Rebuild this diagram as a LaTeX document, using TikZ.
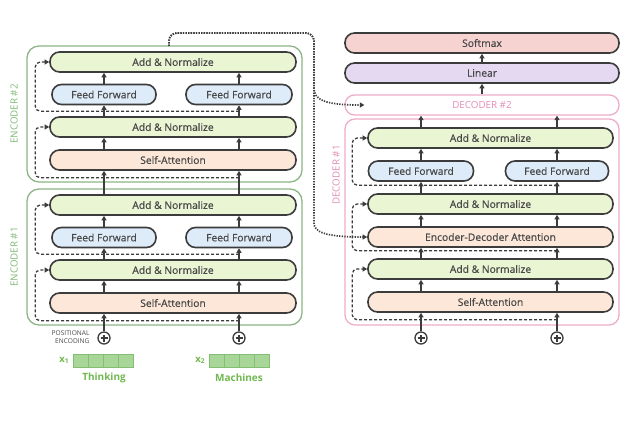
\documentclass[tikz,border=0pt]{standalone}
\usepackage{fontspec}
\setmainfont{Open Sans}
\newfontfamily\boxfont{Open Sans}[FakeBold=0.4]
\usetikzlibrary{arrows.meta,calc}

\definecolor{boxline}{RGB}{60,60,60}
\definecolor{txt}{RGB}{72,72,72}
\definecolor{anfill}{RGB}{234,245,212}
\definecolor{fffill}{RGB}{222,235,248}
\definecolor{safill}{RGB}{252,231,216}
\definecolor{smfill}{RGB}{246,211,208}
\definecolor{linfill}{RGB}{229,217,242}
\definecolor{encgreen}{RGB}{140,182,134}
\definecolor{enctext}{RGB}{128,186,118}
\definecolor{decpink}{RGB}{238,172,202}
\definecolor{dectext}{RGB}{226,140,180}
\definecolor{vecfill}{RGB}{168,214,152}
\definecolor{vecline}{RGB}{130,190,115}
\definecolor{wordgreen}{RGB}{112,184,80}

\tikzset{
  layer/.style={draw=boxline, line width=1.6pt, rounded corners=9.5pt,
    minimum height=20pt, inner sep=0pt, text=txt,
    font=\boxfont\fontsize{10.3}{11}\selectfont},
  addnorm/.style={layer, fill=anfill, minimum width=#1},
  addnorm/.default=246pt,
  feedfwd/.style={layer, fill=fffill, minimum width=#1},
  feedfwd/.default=104pt,
  selfatt/.style={layer, fill=safill, minimum width=#1},
  selfatt/.default=246pt,
  encbox/.style={draw=encgreen, line width=1.3pt, rounded corners=12pt,
    minimum width=275pt, minimum height=136pt},
  decbox/.style={draw=decpink, line width=1.3pt, rounded corners=10pt,
    minimum width=274pt},
  enclabel/.style={rotate=90, text=enctext, font=\fontsize{9.8}{10}\selectfont},
  declabel/.style={text=dectext, font=\fontsize{9.8}{10}\selectfont},
  flow/.style={line width=1.3pt, draw=boxline, -{Triangle[length=4.5pt,width=5pt]}},
  resid/.style={flow, dash pattern=on 3pt off 2pt, rounded corners=5pt},
  link/.style={line width=1.7pt, draw=boxline, dash pattern=on 1.3pt off 1.3pt,
    rounded corners=8pt, -{Triangle[length=4.5pt,width=5pt]}},
  pe/.style={circle, draw=boxline, line width=1.3pt, minimum size=12pt, inner sep=0pt,
    path picture={
      \draw[boxline, line width=1.3pt]
        ([yshift=-3.5pt]path picture bounding box.center) -- ([yshift=3.5pt]path picture bounding box.center)
        ([xshift=-3.5pt]path picture bounding box.center) -- ([xshift=3.5pt]path picture bounding box.center);
    }},
  cell/.style={draw=vecline, fill=vecfill, line width=0.6pt,
    minimum width=15pt, minimum height=13pt, inner sep=0pt},
  word/.style={text=wordgreen, font=\fontsize{10}{11}\selectfont\bfseries}
}

\begin{document}
\begin{tikzpicture}[x=1pt, y=-1pt]
  \useasboundingbox (0,0) rectangle (639,420);

  % columns of the two words
  \coordinate (ca) at (104,0);
  \coordinate (cb) at (239,0);
  \coordinate (da) at (421,0);
  \coordinate (db) at (557,0);

  % encoders
  \node[encbox] (enc2) at (164.5,114) {};
  \node[encbox] (enc1) at (164.5,257) {};
  \node[enclabel] at (14,114) {ENCODER \#2};
  \node[enclabel] at (14,257) {ENCODER \#1};

  \foreach \n/\dy in {2/0,1/143} {
    \node[addnorm] (e\n-an2) at (173,62+\dy) {Add \& Normalize};
    \node[feedfwd] (e\n-ffa) at (104,94.5+\dy) {Feed Forward};
    \node[feedfwd=106pt] (e\n-ffb) at (239,94.5+\dy) {Feed Forward};
    \node[addnorm] (e\n-an1) at (173,127+\dy) {Add \& Normalize};
    \node[selfatt] (e\n-sa) at (173,160+\dy) {Self-Attention};
    \foreach \c/\f in {ca/ffa,cb/ffb} {
      \draw[flow] (e\n-sa.north -| \c) -- (e\n-an1.south -| \c);
      \draw[flow] (e\n-an1.north -| \c) -- (e\n-\f.south);
      \draw[flow] (e\n-\f.north) -- (e\n-an2.south -| \c);
    }
    % residuals
    \draw[resid] ($(e\n-sa.south -| cb)+(0,7)$) -| ($(e\n-an1.west)+(-14,0)$) -- (e\n-an1.west);
    \draw[resid] ($(e\n-an1.north -| cb)+(0,-5)$) -| ($(e\n-an2.west)+(-14,0)$) -- (e\n-an2.west);
  }
  \draw[flow] (e1-an2.north -| ca) -- (e2-sa.south -| ca);
  \draw[flow] (e1-an2.north -| cb) -- (e2-sa.south -| cb);

  % inputs
  \node[pe] (pe1) at (104,338) {};
  \node[pe] (pe2) at (239,338) {};
  \draw[flow] (pe1) -- (e1-sa.south -| pe1);
  \draw[flow] (pe2) -- (e1-sa.south -| pe2);
  \node[anchor=east, align=right, text=txt, font=\fontsize{6.6}{8}\selectfont]
    at (93,337) {POSITIONAL\\ENCODING};

  \foreach \i in {0,...,3} {
    \node[cell] (xa\i) at (80.5+15*\i,360.5) {};
    \node[cell] (xb\i) at (216.5+15*\i,360.5) {};
  }
  \node[text=wordgreen, font=\fontsize{9.5}{10}\selectfont\bfseries, anchor=east] at (xa0.west) {x\textsubscript{1}};
  \node[text=wordgreen, font=\fontsize{9.5}{10}\selectfont\bfseries, anchor=east] at (xb0.west) {x\textsubscript{2}};
  \node[word] (w1) at (104,378) {Thinking};
  \node[word] (w2) at (239,378) {Machines};

  % decoder stack
  \node[layer, fill=smfill, minimum width=274pt] (soft) at (482,43) {Softmax};
  \node[layer, fill=linfill, minimum width=274pt] (lin) at (482,73) {Linear};
  \node[decbox, minimum height=20pt, rounded corners=9.5pt] (dec2) at (482,105) {};
  \node[declabel] at (dec2) {DECODER \#2};
  \node[decbox, minimum height=206pt] (dec1) at (482,222) {};
  \node[declabel, rotate=90] at (336,175) {DECODER \#1};
  \draw[flow] (lin) -- (soft);
  \draw[flow] (dec2) -- (lin);

  \node[addnorm=245pt] (d-an3) at (490.5,138) {Add \& Normalize};
  \node[feedfwd=105pt] (d-ffa) at (421,171) {Feed Forward};
  \node[feedfwd=103pt] (d-ffb) at (557,171) {Feed Forward};
  \node[addnorm=245pt] (d-an2) at (490.5,204) {Add \& Normalize};
  \node[selfatt=245pt] (d-ed) at (490.5,237) {Encoder-Decoder Attention};
  \node[addnorm=245pt] (d-an1) at (490.5,269) {Add \& Normalize};
  \node[selfatt=245pt] (d-sa) at (490.5,302) {Self-Attention};

  \foreach \c/\f in {da/ffa,db/ffb} {
    \draw[flow] (d-sa.north -| \c) -- (d-an1.south -| \c);
    \draw[flow] (d-an1.north -| \c) -- (d-ed.south -| \c);
    \draw[flow] (d-ed.north -| \c) -- (d-an2.south -| \c);
    \draw[flow] (d-an2.north -| \c) -- (d-\f.south);
    \draw[flow] (d-\f.north) -- (d-an3.south -| \c);
    \draw[flow] (d-an3.north -| \c) -- (dec2.south -| \c);
  }
  \draw[resid] ($(d-sa.south -| db)+(0,7)$) -| ($(d-an1.west)+(-15,0)$) -- (d-an1.west);
  \draw[resid] ($(d-ed.south -| db)+(0,3)$) -| ($(d-an2.west)+(-15,0)$) -- (d-an2.west);
  \draw[resid] ($(d-an2.north -| db)+(0,-8)$) -| ($(d-an3.west)+(-15,0)$) -- (d-an3.west);

  \node[pe] (pe3) at (421,338) {};
  \node[pe] (pe4) at (557,338) {};
  \draw[flow] (pe3) -- (d-sa.south -| pe3);
  \draw[flow] (pe4) -- (d-sa.south -| pe4);

  % encoder output to the decoders
  \coordinate (tap) at (169,46);
  \draw[link] (tap) |- (314,33) -- (314,80)
    .. controls (314,100) and (325,105) .. ([xshift=20pt]dec2.west);
  \draw[link] (tap) |- (314,33) -- (314,215)
    .. controls (314,232) and (325,237) .. (d-ed.west);
\end{tikzpicture}
\end{document}
